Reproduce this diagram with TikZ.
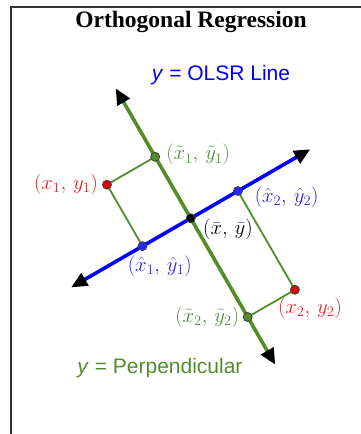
\documentclass[tikz,border=0pt]{standalone}
\usepackage{fontspec}
\setmainfont{Liberation Serif}
\newfontfamily\arialfont{Liberation Sans}
\usetikzlibrary{calc,arrows.meta,positioning}

\definecolor{olsrblue}{RGB}{0,0,250}
\definecolor{perpgreen}{RGB}{84,140,44}
\definecolor{lblblue}{RGB}{40,40,225}
\definecolor{lblgreen}{RGB}{80,140,60}
\definecolor{lblred}{RGB}{215,40,40}

\tikzset{
  >={Triangle[length=16pt,width=14pt,color=black]},
  bigline/.style={line width=3.6pt,<->},
  footline/.style={perpgreen,line width=1.8pt},
  dot/.style={circle,draw=black!75,line width=0.8pt,inner sep=0pt,minimum size=9pt},
  lbl/.style={inner sep=0pt,font=\fontsize{21.5}{25}\selectfont},
  sanslbl/.style={inner sep=0pt,font=\arialfont\fontsize{21}{25}\selectfont}
}

\begin{document}
\begin{tikzpicture}[x=1pt,y=1pt]
    \useasboundingbox (0,0) rectangle (361,-434);
    \draw[black!80,line width=2pt] (11,-434) -- (11,-7) -- (361,-7);
    \node[font=\bfseries\fontsize{23.5}{27}\selectfont] (title) at (191,-22) {Orthogonal Regression};

    % the two lines through the mean
    \coordinate (c) at (190.7,-218.3);
    \coordinate (bs) at ($(c)+(210:138)$);
    \coordinate (be) at ($(c)+(30:138)$);
    \coordinate (gs) at ($(c)+(300:169)$);
    \coordinate (ge) at ($(c)+(120:150)$);

    % feet of the two points
    \coordinate (pb1) at ($(c)+(210:55.7)$);
    \coordinate (pb2) at ($(c)+(30:54.5)$);
    \coordinate (pg1) at ($(c)+(120:71)$);
    \coordinate (pg2) at ($(c)+(300:114)$);
    \coordinate (pr1) at ($(pb1)+(120:71)$);
    \coordinate (pr2) at ($(pb2)+(300:114)$);

    \draw[footline] (pr1) -- (pg1) (pr1) -- (pb1);
    \draw[footline] (pr2) -- (pg2) (pr2) -- (pb2);
    \draw[bigline,olsrblue] (bs) -- (be);
    \draw[bigline,perpgreen] (gs) -- (ge);

    \node[dot,fill=black] (m) at (c) {};
    \node[dot,fill=red!90!black] (r1) at (pr1) {};
    \node[dot,fill=red!90!black] (r2) at (pr2) {};
    \node[dot,fill=perpgreen] (g1) at (pg1) {};
    \node[dot,fill=perpgreen] (g2) at (pg2) {};
    \node[dot,fill=blue!85] (b1) at (pb1) {};
    \node[dot,fill=blue!85] (b2) at (pb2) {};

    \node[lbl,lblred,left=4pt of r1] (lr1) {$(x_1,\,y_1)$};
    \node[lbl,lblred,anchor=north west] (lr2) at ($(r2)+(-17,-8)$) {$(x_2,\,y_2)$};
    \node[lbl,lblgreen,right=6pt of g1,yshift=2pt] (lg1) {$(\tilde{x}_1,\,\tilde{y}_1)$};
    \node[lbl,lblgreen,left=3.5pt of g2] (lg2) {$(\tilde{x}_2,\,\tilde{y}_2)$};
    \node[lbl,lblblue,anchor=north] (lb1) at ($(b1)+(17.3,-9.3)$) {$(\hat{x}_1,\,\hat{y}_1)$};
    \node[lbl,lblblue,anchor=west] (lb2) at ($(b2)+(16.7,-6.3)$) {$(\hat{x}_2,\,\hat{y}_2)$};
    \node[lbl,anchor=west] (lm) at ($(m)+(12.3,-10.7)$) {$(\bar{x},\,\bar{y})$};

    \node[sanslbl,olsrblue] (lolsr) at (221,-75) {\textit{y} = OLSR Line};
    \node[sanslbl,perpgreen] (lperp) at (160,-368) {\textit{y} = Perpendicular};
\end{tikzpicture}
\end{document}
